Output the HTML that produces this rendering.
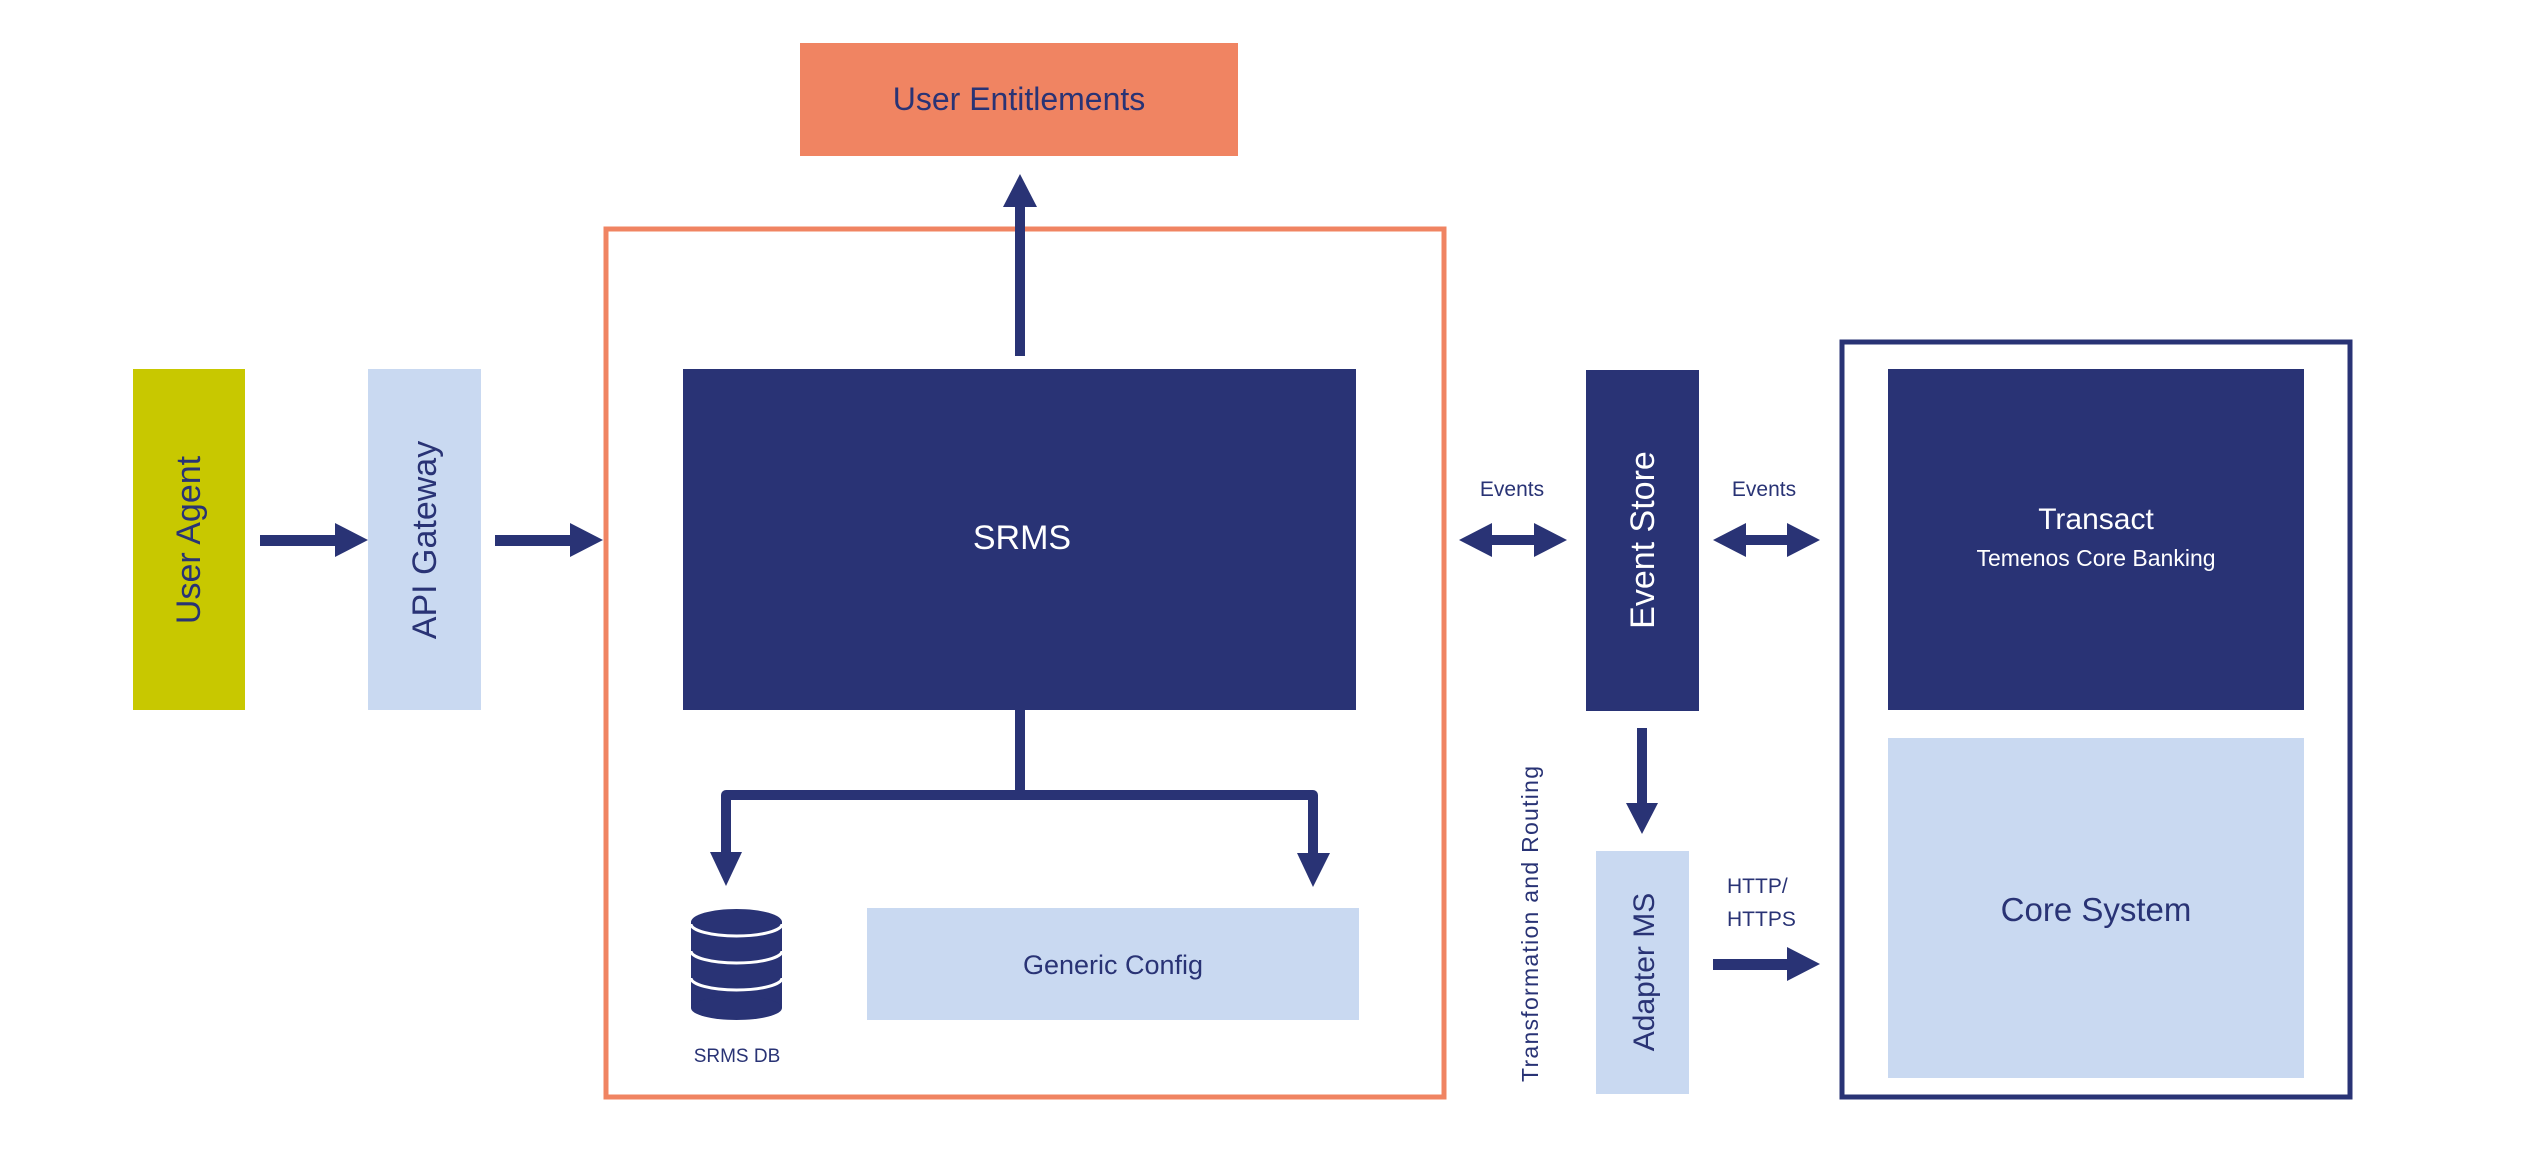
<!DOCTYPE html>
<html><head><meta charset="utf-8"><style>
html,body{margin:0;padding:0;background:#fff;}
svg{display:block;}
text{font-family:"Liberation Sans",sans-serif;}
</style></head><body>
<svg width="2523" height="1162" viewBox="0 0 2523 1162" xmlns="http://www.w3.org/2000/svg">
<rect width="2523" height="1162" fill="#fff"/>
<rect x="800" y="43" width="438" height="113" fill="#F08462"/>
<text x="1019" y="110" font-size="32" fill="#293375" text-anchor="middle">User Entitlements</text>
<rect x="606" y="229" width="838" height="868" fill="none" stroke="#F08462" stroke-width="5"/>
<rect x="1015" y="204" width="10" height="152" fill="#293375"/>
<polygon points="1003,207 1037,207 1020,174" fill="#293375"/>
<rect x="133" y="369" width="112" height="341" fill="#C8C800"/>
<text transform="translate(200,540) rotate(-90)" font-size="34" fill="#293375" text-anchor="middle">User Agent</text>
<rect x="368" y="369" width="113" height="341" fill="#C9D9F1"/>
<text transform="translate(436,540) rotate(-90)" font-size="34" fill="#293375" text-anchor="middle">API Gateway</text>
<rect x="260" y="535" width="76" height="11" fill="#293375"/>
<polygon points="335,523 368,540 335,557" fill="#293375"/>
<rect x="495" y="535" width="76" height="11" fill="#293375"/>
<polygon points="570,523 603,540 570,557" fill="#293375"/>
<rect x="683" y="369" width="673" height="341" fill="#293375"/>
<text x="1022" y="549" font-size="34" fill="#fff" text-anchor="middle">SRMS</text>
<rect x="1015" y="710" width="10" height="85" fill="#293375"/>
<path d="M726,855 V795 H1313 V855" fill="none" stroke="#293375" stroke-width="10" stroke-linejoin="round"/>
<polygon points="710,852 742,852 726,886" fill="#293375"/>
<polygon points="1297,853 1330,853 1313,887" fill="#293375"/>
<!-- DB -->
<rect x="691" y="922" width="91" height="86" fill="#293375"/>
<ellipse cx="736.5" cy="1008" rx="45.5" ry="12" fill="#293375"/>
<ellipse cx="736.5" cy="922" rx="45.5" ry="13" fill="#293375"/>
<g fill="none" stroke="#fff" stroke-width="3">
<path d="M691,924 a45.5,12 0 0 0 91,0"/>
<path d="M691,951 a45.5,12 0 0 0 91,0"/>
<path d="M691,978 a45.5,12 0 0 0 91,0"/>
</g>
<text x="737" y="1062" font-size="19" fill="#293375" text-anchor="middle">SRMS DB</text>
<rect x="867" y="908" width="492" height="112" fill="#C9D9F1"/>
<text x="1113" y="974" font-size="27" fill="#293375" text-anchor="middle">Generic Config</text>
<rect x="1586" y="370" width="113" height="341" fill="#293375"/>
<text transform="translate(1654,540) rotate(-90)" font-size="34" fill="#fff" text-anchor="middle">Event Store</text>
<text x="1512" y="496" font-size="21" fill="#293375" text-anchor="middle">Events</text>
<text x="1764" y="496" font-size="21" fill="#293375" text-anchor="middle">Events</text>
<rect x="1480" y="535" width="66" height="10" fill="#293375"/>
<polygon points="1459,540 1492,523 1492,557" fill="#293375"/>
<polygon points="1567,540 1534,523 1534,557" fill="#293375"/>
<rect x="1734" y="535" width="66" height="10" fill="#293375"/>
<polygon points="1713,540 1746,523 1746,557" fill="#293375"/>
<polygon points="1820,540 1787,523 1787,557" fill="#293375"/>
<rect x="1637" y="728" width="10" height="77" fill="#293375"/>
<polygon points="1626,803 1658,803 1642,834" fill="#293375"/>
<rect x="1596" y="851" width="93" height="243" fill="#C9D9F1"/>
<text transform="translate(1654,972) rotate(-90)" font-size="30" fill="#293375" text-anchor="middle">Adapter MS</text>
<text transform="translate(1538,924) rotate(-90)" font-size="23" fill="#293375" text-anchor="middle" textLength="316" lengthAdjust="spacing">Transformation and Routing</text>
<text x="1727" y="893" font-size="21" fill="#293375">HTTP/</text>
<text x="1727" y="926" font-size="21" fill="#293375">HTTPS</text>
<rect x="1713" y="959" width="76" height="11" fill="#293375"/>
<polygon points="1787,947 1820,964 1787,981" fill="#293375"/>
<rect x="1842" y="342" width="508" height="755" fill="none" stroke="#293375" stroke-width="5"/>
<rect x="1888" y="369" width="416" height="341" fill="#293375"/>
<text x="2096" y="529" font-size="30" fill="#fff" text-anchor="middle">Transact</text>
<text x="2096" y="566" font-size="23" fill="#fff" text-anchor="middle">Temenos Core Banking</text>
<rect x="1888" y="738" width="416" height="340" fill="#C9D9F1"/>
<text x="2096" y="921" font-size="33" fill="#293375" text-anchor="middle">Core System</text>
</svg>
</body></html>
